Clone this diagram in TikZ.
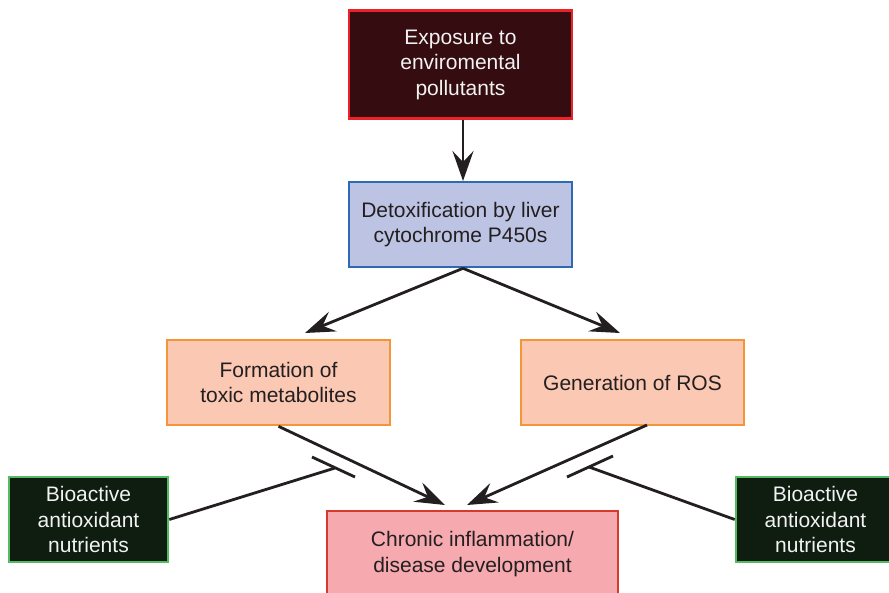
\documentclass[tikz,border=0pt]{standalone}
\usepackage{fontspec}
\setmainfont{Liberation Sans}
\usetikzlibrary{arrows.meta}
\definecolor{topfill}{HTML}{350D10}
\definecolor{topdraw}{HTML}{EC2229}
\definecolor{bluefill}{HTML}{BDC4E3}
\definecolor{bluedraw}{HTML}{2E69B3}
\definecolor{orfill}{HTML}{FBC8B3}
\definecolor{ordraw}{HTML}{F39638}
\definecolor{pkfill}{HTML}{F6AAB0}
\definecolor{pkdraw}{HTML}{D63A2C}
\definecolor{grfill}{HTML}{0E1D10}
\definecolor{grdraw}{HTML}{55BB63}
\definecolor{txt}{HTML}{231F20}
\definecolor{lin}{HTML}{231F20}
\tikzset{
  box/.style={draw, line width=2.6pt, rectangle, align=center, inner sep=0pt,
    font=\fontsize{21}{25.5}\selectfont, text=txt},
  darkbox/.style={box, text=white!95!black},
  arr/.style={draw=lin, line width=2.8pt, -{Stealth[length=30pt,width=21pt,inset=11pt]}},
  inh/.style={draw=lin, line width=2.8pt},
}
\begin{document}
\begin{tikzpicture}[x=1pt,y=-1pt]
\useasboundingbox (0,0) rectangle (889,592);
\clip (0,0) rectangle (889,592);
\node[darkbox, fill=topfill, draw=topdraw, minimum width=223pt, minimum height=108pt] (top) at (460.5,64.5) {Exposure to\\enviromental\\pollutants};
\node[box, fill=bluefill, draw=bluedraw, minimum width=223pt, minimum height=85pt] (det) at (460.5,224.5) {Detoxification by liver\\cytochrome P450s};
\node[box, fill=orfill, draw=ordraw, minimum width=223pt, minimum height=85pt] (tox) at (278.5,382.5) {Formation of\\toxic metabolites};
\node[box, fill=orfill, draw=ordraw, minimum width=223pt, minimum height=85pt] (ros) at (632.5,382.5) {Generation of ROS};
\node[box, fill=pkfill, draw=pkdraw, minimum width=291pt, minimum height=86pt] (chr) at (472.5,554) {Chronic inflammation/\\disease development};
\node[darkbox, fill=grfill, draw=grdraw, minimum width=159pt, minimum height=85pt] (gl) at (88.5,519.5) {Bioactive\\antioxidant\\nutrients};
\node[darkbox, fill=grfill, draw=grdraw, minimum width=159pt, minimum height=85pt] (gr) at (815.5,519.5) {Bioactive\\antioxidant\\nutrients};
\coordinate (t1) at (463,181);
\coordinate (t2) at (305,333);
\coordinate (t3) at (620,333);
\coordinate (t4) at (445,505);
\coordinate (t5) at (467,505);
\coordinate (ros0) at (647,425);
\coordinate (il) at (335,468);
\coordinate (ir) at (589,467);
\coordinate (bl1) at (312,457);
\coordinate (bl2) at (355,477);
\coordinate (br1) at (567,477);
\coordinate (br2) at (613,456);
\draw[arr] (top.south -| t1) -- (t1);
\draw[arr] (det.south -| t1) -- (t2);
\draw[arr] (det.south -| t1) -- (t3);
\draw[arr] (tox.south) -- (t4);
\draw[arr] (ros0) -- (t5);
\draw[inh] (gl.east) -- (il);
\draw[inh] (bl1) -- (bl2);
\draw[inh] (gr.west) -- (ir);
\draw[inh] (br1) -- (br2);
\end{tikzpicture}
\end{document}
